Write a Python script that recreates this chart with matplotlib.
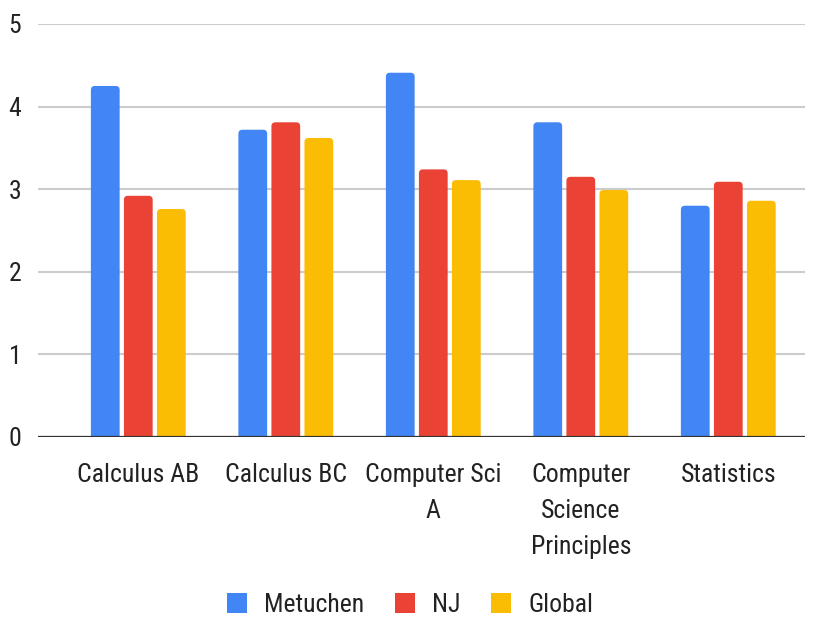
import matplotlib
matplotlib.use("Agg")
import matplotlib.pyplot as plt
import numpy as np
from matplotlib.patches import FancyBboxPatch, Patch

categories = ["Calculus AB", "Calculus BC", "Computer Sci\nA", "Computer\nScience\nPrinciples", "Statistics"]
metuchen = [4.25, 3.72, 4.41, 3.81, 2.80]
nj = [2.92, 3.81, 3.24, 3.15, 3.09]
global_ = [2.76, 3.62, 3.11, 2.99, 2.86]
series_names = ["Metuchen", "NJ", "Global"]
colors = ["#4285F4", "#EA4335", "#FBBC04"]
yticks = [0, 1, 2, 3, 4, 5]

FONT = ["Roboto Condensed", "Liberation Sans", "DejaVu Sans"]
plt.rcParams["font.family"] = FONT

fig = plt.figure(figsize=(8.25, 6.22), dpi=100)
ax = fig.add_axes([38/825, 185/622, (805-38)/825, (437-24)/622])

x = np.arange(len(categories))
width = 0.195
offset = 0.224
series = [metuchen, nj, global_]

px_x = 147.5
px_y = 82.6
r = 4.0 / px_x
aspect = px_x / px_y

for i, (vals, c) in enumerate(zip(series, colors)):
    bars = ax.bar(x + (i - 1) * offset, vals, width, color=c, zorder=3)
    for b in bars:
        b.set_visible(False)
        bx, by = b.get_x(), b.get_y()
        bw, bh = b.get_width(), b.get_height()
        ext = r * aspect
        p = FancyBboxPatch((bx, by - ext), bw, bh + ext,
                           boxstyle=f"round,pad=0,rounding_size={r}",
                           mutation_aspect=aspect, facecolor=c,
                           edgecolor="none", zorder=3)
        ax.add_patch(p)

ax.set_xlim(-0.68, 4.52)
ax.set_ylim(0, 5)
ax.set_yticks(yticks)
ax.set_yticklabels([str(t) for t in yticks])
ax.set_xticks(x)
ax.set_xticklabels(categories, linespacing=1.62)

ax.grid(axis="y", color="#cccccc", linewidth=1.5, zorder=0)
ax.axhline(0, color="#333333", linewidth=1.6, zorder=4)
for s in ax.spines.values():
    s.set_visible(False)
ax.tick_params(axis="both", length=0, labelsize=18.5, labelcolor="#222222")
ax.tick_params(axis="x", pad=19)
ax.tick_params(axis="y", pad=12)

handles = [Patch(facecolor=c, edgecolor="none") for c in colors]
leg = fig.legend(handles, series_names, loc="center", bbox_to_anchor=(0.497, 1 - 605/622),
                 ncol=3, frameon=False, fontsize=18.5, handlelength=0.78, handleheight=0.85,
                 handletextpad=0.66, columnspacing=1.2, labelcolor="#222222")

fig.savefig("out.png", dpi=100)
